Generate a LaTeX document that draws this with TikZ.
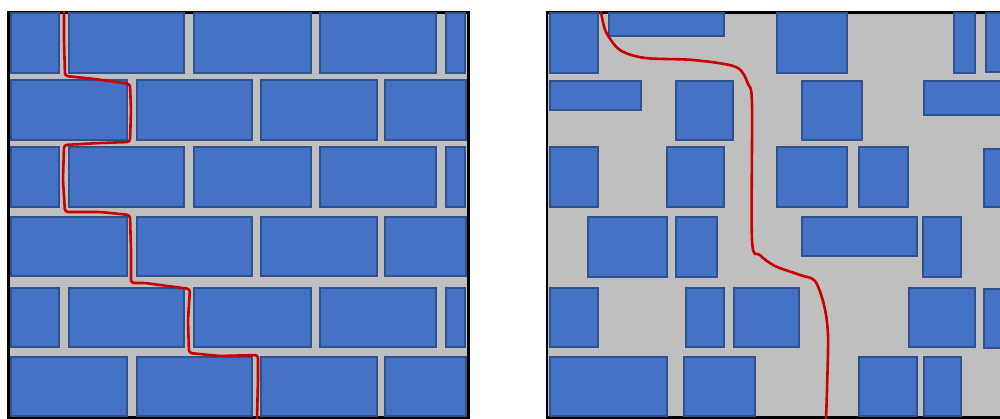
\documentclass[tikz,border=0pt]{standalone}
\usetikzlibrary{calc}
\definecolor{brickfill}{RGB}{68,114,196}
\definecolor{brickline}{RGB}{47,82,143}
\definecolor{mortar}{RGB}{191,191,191}
\definecolor{crack}{RGB}{200,0,0}
\tikzset{
  brick/.style={fill=brickfill,draw=brickline,line width=1.8pt},
  panel/.style={fill=mortar,draw=black,line width=2.5pt},
  cracked/.style={draw=crack,line width=2.6pt,line cap=round,line join=round}
}
\newcommand{\bk}[4]{\draw[brick] (#1+0.9,#2+0.9) rectangle (#3-0.9,#4-0.9);}
\begin{document}
\begin{tikzpicture}[x=1pt,y=-1pt]
\useasboundingbox (0,0) rectangle (1000,419);
\begin{scope}
\clip (0,0) rectangle (1000,419);
% ---------- left panel ----------
\draw[panel] (8.5,12.5) rectangle (468.5,417.5);
% odd rows
\foreach \t/\b in {12.5/74,146/208,287/348}{
  \bk{10}{\t}{60}{\b}
  \bk{68}{\t}{185}{\b}
  \bk{193}{\t}{312}{\b}
  \bk{319}{\t}{437}{\b}
  \bk{445}{\t}{466}{\b}
}
% even rows
\foreach \t/\b in {79/141,216/277,356/417}{
  \bk{10}{\t}{128}{\b}
  \bk{136}{\t}{253}{\b}
  \bk{260}{\t}{378}{\b}
  \bk{384}{\t}{467}{\b}
}
\draw[cracked,rounded corners=3pt] (64,12) -- (64,40) -- (65,76) -- (95,79) -- (130,84)
  -- (131,110) -- (130,142) -- (100,143) -- (64,145) -- (63,180) -- (65,212)
  -- (100,212) -- (130,215) -- (131,250) -- (131,283) -- (145,283) -- (190,289)
  -- (188,320) -- (189,353) -- (220,356) -- (258,355) -- (258,380) -- (257,418);
% ---------- right panel ----------
\draw[panel] (547,12.5) rectangle (1003,417.5);
\bk{549}{12.5}{599}{74}
\bk{608}{12.5}{725}{37}
\bk{776}{12.5}{848}{74}
\bk{953}{12.5}{976}{74}
\bk{985}{12.5}{1010}{73}
\bk{549}{80}{642}{111}
\bk{675}{80}{734}{141}
\bk{801}{80}{863}{141}
\bk{923}{80}{1010}{116}
\bk{549}{146}{599}{208}
\bk{666}{146}{725}{208}
\bk{776}{146}{848}{208}
\bk{858}{146}{909}{208}
\bk{983}{148}{1010}{208}
\bk{587}{216}{668}{278}
\bk{675}{216}{718}{278}
\bk{801}{216}{918}{257}
\bk{922}{216}{962}{278}
\bk{549}{287}{599}{348}
\bk{685}{287}{725}{348}
\bk{733}{287}{800}{348}
\bk{908}{287}{976}{348}
\bk{983}{288}{1010}{349}
\bk{549}{356}{668}{417}
\bk{683}{356}{756}{417}
\bk{858}{356}{918}{417}
\bk{923}{356}{962}{417}
\draw[cracked] plot[smooth,tension=0.5] coordinates {(601,12) (606,32) (620,50) (645,58)
  (693,60) (736,67) (748,84) (752,105) (752,240) (760,255) (775,266) (800,275)
  (815,281) (824,305) (828,335) (827,390) (826,418)};
\end{scope}
\end{tikzpicture}
\end{document}
